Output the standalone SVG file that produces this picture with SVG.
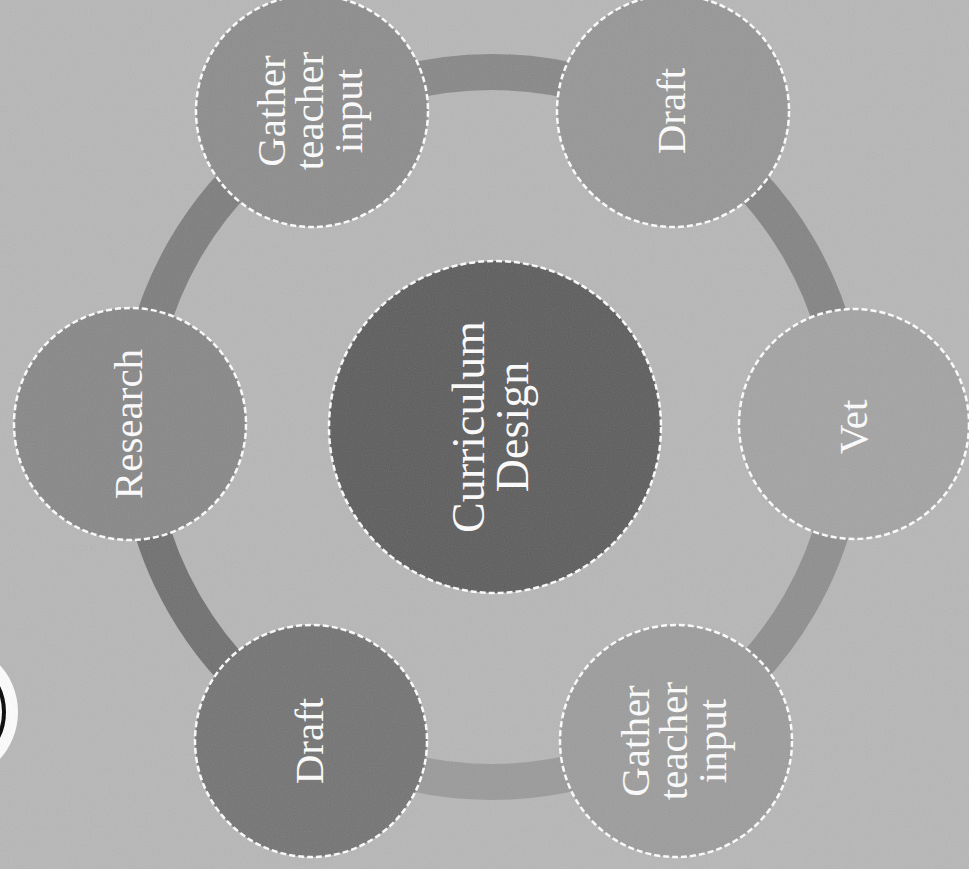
<svg xmlns="http://www.w3.org/2000/svg" width="969" height="869" viewBox="0 0 969 869">
  <defs>
    <filter id="grain" x="0" y="0" width="100%" height="100%">
      <feTurbulence type="fractalNoise" baseFrequency="0.95" numOctaves="1" seed="7" result="n"/>
      <feColorMatrix type="saturate" values="0"/>
    </filter>
  </defs>
  <style>
    .node { stroke: #ffffff; stroke-width: 2.5; stroke-dasharray: 6 3; }
    .lbl { font-family: "Liberation Serif", "DejaVu Serif", serif; font-size: 41px; fill: #ffffff; text-anchor: middle; }
    .big { font-size: 46px; }
    .band { fill: none; stroke-width: 36; }
  </style>
  <rect width="969" height="869" fill="#b7b7b7"/>

  <g id="edge-shape">
    <circle cx="-52" cy="712" r="70" fill="#ffffff"/>
    <circle cx="-52" cy="712" r="56" fill="none" stroke="#000000" stroke-width="4"/>
  </g>

  <g id="connectors">
    <path class="band" stroke="#8e8e8e" d="M847,427 A355,355 0 0 1 669.5,734.4"/>
    <path class="band" stroke="#9a9a9a" d="M669.5,734.4 A355,355 0 0 1 314.5,734.4"/>
    <path class="band" stroke="#6f6f6f" d="M314.5,734.4 A355,355 0 0 1 137,427"/>
    <path class="band" stroke="#7d7d7d" d="M137,427 A355,355 0 0 1 314.5,119.6"/>
    <path class="band" stroke="#878787" d="M314.5,119.6 A355,355 0 0 1 669.5,119.6"/>
    <path class="band" stroke="#838383" d="M669.5,119.6 A355,355 0 0 1 847,427"/>
  </g>

  <g id="center">
    <circle class="node" cx="495" cy="427" r="166" fill="#5c5c5c"/>
    <text class="lbl big" transform="translate(495,427) rotate(-90)"><tspan x="0" y="-11">Curriculum</tspan><tspan x="0" y="33">Design</tspan></text>
  </g>

  <g id="research">
    <circle class="node" cx="130" cy="424" r="116" fill="#878787"/>
    <text class="lbl" transform="translate(130,424) rotate(-90)" x="0" y="12">Research</text>
  </g>

  <g id="gather-top">
    <circle class="node" cx="312" cy="111" r="116" fill="#8c8c8c"/>
    <text class="lbl" transform="translate(312,111) rotate(-90)"><tspan x="0" y="-27">Gather</tspan><tspan x="0" y="11">teacher</tspan><tspan x="0" y="50">input</tspan></text>
  </g>

  <g id="draft-top">
    <circle class="node" cx="673" cy="111" r="116" fill="#969696"/>
    <text class="lbl" transform="translate(673,111) rotate(-90)" x="0" y="12">Draft</text>
  </g>

  <g id="vet">
    <circle class="node" cx="854" cy="424" r="115" fill="#a3a3a3"/>
    <text class="lbl" transform="translate(854,427) rotate(-90)" x="0" y="13">Vet</text>
  </g>

  <g id="gather-bottom">
    <circle class="node" cx="676" cy="741" r="116" fill="#9c9c9c"/>
    <text class="lbl" transform="translate(676,741) rotate(-90)"><tspan x="0" y="-27">Gather</tspan><tspan x="0" y="11">teacher</tspan><tspan x="0" y="50">input</tspan></text>
  </g>

  <g id="draft-bottom">
    <circle class="node" cx="311" cy="741" r="116" fill="#737373"/>
    <text class="lbl" transform="translate(311,741) rotate(-90)" x="0" y="12">Draft</text>
  </g>

  <rect width="969" height="869" filter="url(#grain)" opacity="0.18" pointer-events="none"/>
</svg>
